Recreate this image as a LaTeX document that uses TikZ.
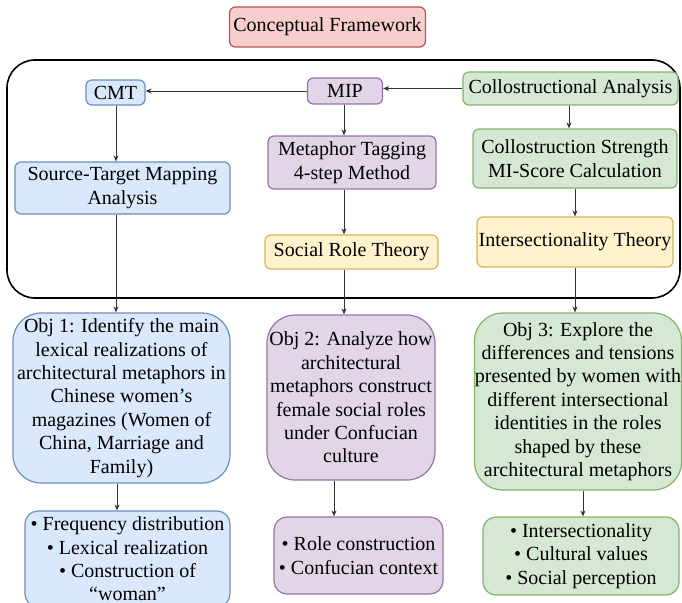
\documentclass[tikz,border=0pt]{standalone}
\usepackage{fontspec}
\setmainfont{Liberation Serif}
\usetikzlibrary{arrows.meta}
\definecolor{bfill}{HTML}{DAE8FC}\definecolor{bdraw}{HTML}{6C8EBF}
\definecolor{pfill}{HTML}{E1D5E7}\definecolor{pdraw}{HTML}{9673A6}
\definecolor{gfill}{HTML}{D5E8D4}\definecolor{gdraw}{HTML}{82B366}
\definecolor{yfill}{HTML}{FFF2CC}\definecolor{ydraw}{HTML}{D6B656}
\definecolor{rfill}{HTML}{F8CECC}\definecolor{rdraw}{HTML}{B85450}
\definecolor{linecol}{HTML}{333333}
\tikzset{
  box/.style={rectangle, rounded corners=6pt, line width=1.2pt, align=center, inner sep=0pt,
    font=\fontsize{20}{23.4}\selectfont},
  bluebox/.style={box, fill=bfill, draw=bdraw},
  purplebox/.style={box, fill=pfill, draw=pdraw},
  greenbox/.style={box, fill=gfill, draw=gdraw},
  yellowbox/.style={box, fill=yfill, draw=ydraw},
  redbox/.style={box, fill=rfill, draw=rdraw},
  objbox/.style={rounded corners=28pt},
  bulbox/.style={rounded corners=13pt},
  arr/.style={draw=linecol, line width=0.9pt, -{Stealth[length=6pt,width=5pt]}},
  sz/.style 2 args={minimum width=#1pt, minimum height=#2pt}
}
\begin{document}
\begin{tikzpicture}[x=1pt,y=-1pt]
\useasboundingbox (0,0) rectangle (682,602);
\begin{scope}
\clip (0,0) rectangle (682,602);
% outer frame
\draw[line width=1.6pt, rounded corners=28pt] (7,60) rectangle (680,298);

\node[redbox, sz={196}{40}] (cf) at (327.5,27) {Conceptual Framework};

\node[bluebox, sz={59}{25}] (cmt) at (115.5,92.5) {CMT};
\node[purplebox, sz={75}{26}] (mip) at (345,91) {MIP};
\node[greenbox, sz={215}{33}] (coll) at (570.5,88.5) {Collostructional Analysis};

\node[bluebox, sz={215}{52}] (stm) at (122.5,188) {Source-Target Mapping\\Analysis};
\node[purplebox, sz={168}{53}] (mt) at (352,162.5) {Metaphor Tagging\\4-step Method};
\node[greenbox, sz={204}{59}] (cs) at (575,158.5) {Collostruction Strength\\MI-Score Calculation};

\node[yellowbox, sz={173}{34}] (srt) at (351.5,252) {Social Role Theory};
\node[yellowbox, sz={196}{50}] (it) at (575,242) {Intersectionality Theory};

\node[bluebox, objbox, sz={217}{170}] (o1) at (121.5,398) {Obj 1: Identify the main\\lexical realizations of\\architectural metaphors in\\Chinese women’s\\magazines (Women of\\China, Marriage and\\Family)};
\node[purplebox, objbox, sz={168}{165}] (o2) at (351,397.5) {Obj 2: Analyze how\\architectural\\metaphors construct\\female social roles\\under Confucian\\culture};
\node[greenbox, objbox, sz={207}{177}] (o3) at (578,401.5) {Obj 3: Explore the\\differences and tensions\\presented by women with\\different intersectional\\identities in the roles\\shaped by these\\architectural metaphors};

\node[bluebox, bulbox, sz={205}{96}] (b1) at (127.5,559) {• Frequency distribution\\• Lexical realization\\• Construction of\\“woman”};
\node[purplebox, bulbox, sz={169}{77}] (b2) at (358.5,555.5) {• Role construction\\• Confucian context};
\node[greenbox, bulbox, sz={196}{78}] (b3) at (581,556) {• Intersectionality\\• Cultural values\\• Social perception};

% connectors
\coordinate (xa) at (116,0);
\coordinate (xb) at (344,0);
\coordinate (xc) at (569,0);
\coordinate (xd) at (575,0);
\coordinate (xe) at (117,0);
\coordinate (xf) at (334,0);
\coordinate (xg) at (583,0);

\draw[arr] (mip.west) -- (cmt.east |- mip.west);
\draw[arr] (coll.west) -- (mip.east |- coll.west);
\draw[arr] (cmt.south -| xa) -- (stm.north -| xa);
\draw[arr] (mip.south -| xb) -- (mt.north -| xb);
\draw[arr] (coll.south -| xc) -- (cs.north -| xc);
\draw[arr] (stm.south -| xa) -- (o1.north -| xa);
\draw[arr] (mt.south -| xb) -- (srt.north -| xb);
\draw[arr] (srt.south -| xb) -- (o2.north -| xb);
\draw[arr] (cs.south -| xd) -- (it.north -| xd);
\draw[arr] (it.south -| xd) -- (o3.north -| xd);
\draw[arr] (o1.south -| xe) -- (b1.north -| xe);
\draw[arr] (o2.south -| xf) -- (b2.north -| xf);
\draw[arr] (o3.south -| xg) -- (b3.north -| xg);
\end{scope}
\end{tikzpicture}
\end{document}
